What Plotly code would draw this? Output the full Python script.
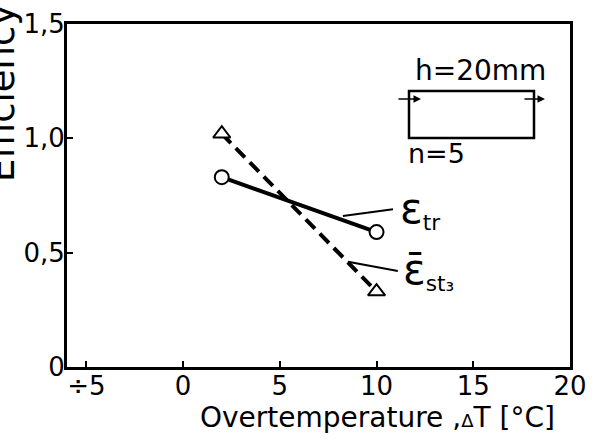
import plotly.graph_objects as go

# Data
dT_tr = [2, 10]
eff_tr = [0.83, 0.59]
dT_st = [2, 10]
eff_st = [1.02, 0.33]

x_tickvals = [-5, 0, 5, 10, 15, 20]
x_ticktext = ["÷5", "0", "5", "10", "15", "20"]
y_tickvals = [0, 0.5, 1.0, 1.5]
y_ticktext = ["0", "0,5", "1,0", "1,5"]

FONT = "DejaVu Sans"
W, H = 596, 444
# plot area in pixels: x 67..570, y 24..367
PL, PR, PT, PB = 67, 570, 24, 367
L, T = PL, PT
R, B = W - PR, H - PB
pw, ph = PR - PL, PB - PT


def px(x):
    return (x - PL) / pw


def py(y):
    return (PB - y) / ph


fig = go.Figure()

fig.add_trace(go.Scatter(
    x=dT_tr, y=eff_tr, mode="lines+markers",
    line=dict(color="black", width=4),
    marker=dict(symbol="circle", size=14, color="white",
                line=dict(color="black", width=2)),
    showlegend=False))

fig.add_trace(go.Scatter(
    x=dT_st, y=eff_st, mode="lines+markers",
    line=dict(color="black", width=4, dash="13px,7px"),
    marker=dict(symbol="triangle-up", size=15, color="white",
                line=dict(color="black", width=2)),
    showlegend=False))

axis_common = dict(showline=True, linecolor="black", linewidth=3, mirror=True,
                   ticks="inside", ticklen=6, tickwidth=2, tickcolor="black",
                   showgrid=False, zeroline=False, automargin=False,
                   ticklabelstandoff=-6,
                   tickfont=dict(family=FONT, size=26, color="black"))

fig.update_xaxes(range=[-6, 20], tickvals=x_tickvals, ticktext=x_ticktext, **axis_common)
fig.update_yaxes(range=[0, 1.5], tickvals=y_tickvals, ticktext=y_ticktext, **axis_common)

anns = []
# axis titles
anns.append(dict(xref="paper", yref="paper", x=px(377), y=py(418),
                 text="Overtemperature ,<span style='font-size:18px'>Δ</span>T [°C]",
                 showarrow=False, font=dict(family=FONT, size=28, color="black"),
                 xanchor="center", yanchor="middle"))
anns.append(dict(xref="paper", yref="paper", x=px(1), y=py(93),
                 text="Efficiency", textangle=-90, showarrow=False,
                 font=dict(family=FONT, size=37, color="black"),
                 xanchor="center", yanchor="middle"))
# series labels with leader lines
anns.append(dict(xref="x", yref="y", x=11.1, y=0.69,
                 text="<span style='font-size:42px'>ε</span><sub>tr</sub>",
                 showarrow=False, font=dict(family=FONT, size=31, color="black"),
                 xanchor="left", yanchor="middle"))
anns.append(dict(xref="x", yref="y", x=11.25, y=0.42,
                 text="<span style='font-size:42px'>ε̄</span><sub>st₃</sub>",
                 showarrow=False, font=dict(family=FONT, size=31, color="black"),
                 xanchor="left", yanchor="middle"))
# inset texts
anns.append(dict(xref="paper", yref="paper", x=px(480), y=py(70),
                 text="h=20mm", showarrow=False,
                 font=dict(family=FONT, size=28, color="black"),
                 xanchor="center", yanchor="middle"))
anns.append(dict(xref="paper", yref="paper", x=px(406), y=py(153),
                 text="n=5", showarrow=False,
                 font=dict(family=FONT, size=27, color="black"),
                 xanchor="left", yanchor="middle"))
# inset arrows
anns.append(dict(xref="paper", yref="paper", x=px(421), y=py(99), ax=-24, ay=0,
                 text="", showarrow=True, arrowhead=2, arrowsize=1, arrowwidth=1.5,
                 arrowcolor="black"))
anns.append(dict(xref="paper", yref="paper", x=px(545), y=py(99), ax=-22, ay=0,
                 text="", showarrow=True, arrowhead=2, arrowsize=1, arrowwidth=1.5,
                 arrowcolor="black"))
fig.update_layout(annotations=anns)

shapes = [
    dict(type="line", xref="x", yref="y", x0=8.26, y0=0.66, x1=10.85, y1=0.69,
         line=dict(color="black", width=2)),
    dict(type="line", xref="x", yref="y", x0=8.52, y0=0.46, x1=11.1, y1=0.42,
         line=dict(color="black", width=2)),
    dict(type="rect", xref="paper", yref="paper", x0=px(409), x1=px(534),
         y0=py(138), y1=py(91), line=dict(color="black", width=2.5)),
]
fig.update_layout(shapes=shapes)

fig.update_layout(width=W, height=H, margin=dict(l=L, r=R, t=T, b=B, autoexpand=False),
                  paper_bgcolor="white", plot_bgcolor="white",
                  font=dict(family=FONT, color="black"))

fig.write_html("out.html", config={"displayModeBar": False},
               post_script="document.body.style.margin='0';document.body.style.overflow='hidden';")
